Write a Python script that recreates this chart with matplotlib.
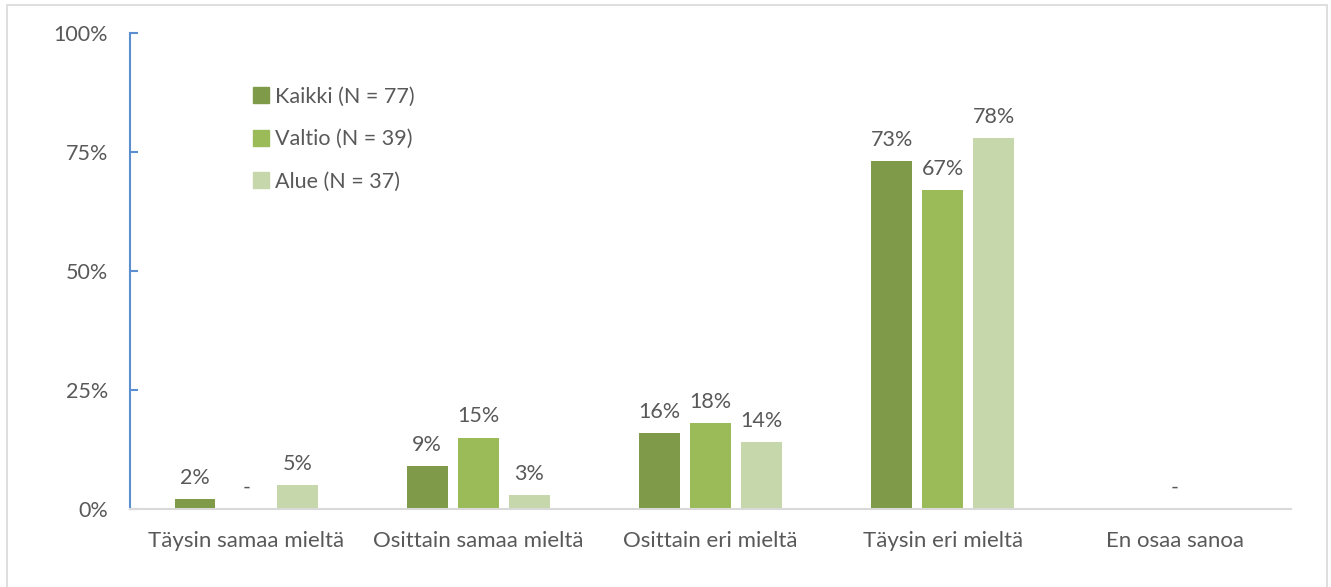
"""Grouped bar chart: Kaikki / Valtio / Alue."""
import numpy as np
from matplotlib import pyplot as plt
from matplotlib.patches import Rectangle
from matplotlib.lines import Line2D

categories = ['Täysin samaa mieltä', 'Osittain samaa mieltä', 'Osittain eri mieltä',
              'Täysin eri mieltä', 'En osaa sanoa']
kaikki = [2, 9, 16, 73, 0]
valtio = [0, 15, 18, 67, 0]
alue = [5, 3, 14, 78, 0]
kaikki_labels = ['2%', '9%', '16%', '73%', '']
valtio_labels = ['-', '15%', '18%', '67%', '-']
alue_labels = ['5%', '3%', '14%', '78%', '']
series_names = ['Kaikki (N = 77)', 'Valtio (N = 39)', 'Alue (N = 37)']
colors = ['#7F9A48', '#9BBB59', '#C6D7AC']
yticks = [0, 25, 50, 75, 100]
ytick_labels = ['0%', '25%', '50%', '75%', '100%']

text_color = '#595959'
plt.rcParams['font.family'] = ['Lato', 'DejaVu Sans']

fig = plt.figure(figsize=(13.31, 5.87), dpi=100)
ax = fig.add_axes([0.0977, 0.133, 0.8723, 0.8108])

x = np.arange(len(categories))
width = 0.176
step = 0.22
series = [(kaikki, kaikki_labels), (valtio, valtio_labels), (alue, alue_labels)]
for i, (vals, labels) in enumerate(series):
    pos = x + (i - 1) * step
    ax.bar(pos, vals, width, color=colors[i])
    for px, v, lab in zip(pos, vals, labels):
        if lab:
            ax.annotate(lab, (px, v), xytext=(0, 8), textcoords='offset points',
                        ha='center', va='bottom', fontsize=15.5, color=text_color)

ax.set_xlim(-0.5, len(categories) - 0.5)
ax.set_ylim(0, 100)
ax.set_yticks(yticks)
ax.set_yticklabels(ytick_labels)
ax.set_xticks(x)
ax.set_xticklabels(categories)
ax.tick_params(axis='y', direction='in', colors='#5B8FD0', labelcolor=text_color,
               labelsize=15.5, length=6, width=1.5, pad=16)
ax.tick_params(axis='x', length=0, labelcolor=text_color, labelsize=16, pad=16)

for side in ['top', 'right']:
    ax.spines[side].set_visible(False)
ax.spines['left'].set_color('#5B8FD0')
ax.spines['left'].set_linewidth(1.5)
ax.spines['bottom'].set_color('#D9D9D9')
ax.spines['bottom'].set_linewidth(1.5)

handles = [Line2D([], [], marker='s', linestyle='none', markersize=11,
                  markerfacecolor=c, markeredgecolor=c) for c in colors]
ax.legend(handles, series_names, loc='upper left', bbox_to_anchor=(0.09, 0.928),
          frameon=False, fontsize=15.5, labelcolor=text_color, handlelength=0.7,
          handletextpad=0.3, labelspacing=1.05)

fig.patches.append(Rectangle((7 / 1331, -0.01), 1320 / 1331, 1.01 - 5 / 587,
                             transform=fig.transFigure, fill=False,
                             edgecolor='#D9D9D9', linewidth=1.2))

fig.savefig('out.png', dpi=100)
